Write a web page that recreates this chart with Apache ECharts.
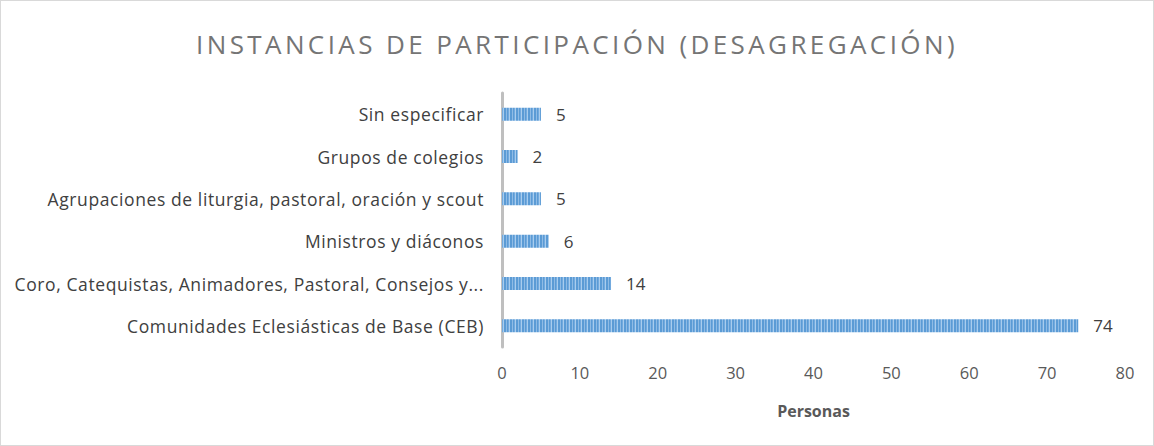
<!DOCTYPE html>
<html><head><meta charset="utf-8">
<script src="https://cdn.jsdelivr.net/npm/echarts@6/dist/echarts.min.js"></script>
<style>html,body{margin:0;padding:0;background:#fff}#c{width:1152px;height:444px;border:1px solid #d9d9d9}</style>
</head><body><div id="c"></div>
<script>
const categories = ["Sin especificar","Grupos de colegios","Agrupaciones de liturgia, pastoral, oración y scout","Ministros y diáconos","Coro, Catequistas, Animadores, Pastoral, Consejos y...","Comunidades Eclesiásticas de Base (CEB)"];
const values = [5,2,5,6,14,74];
const xTicks = [0,10,20,30,40,50,60,70,80];
const titleText = 'INSTANCIAS DE PARTICIPACIÓN (DESAGREGACIÓN)';

const pc = document.createElement('canvas');
pc.width = 6; pc.height = 4;
const g = pc.getContext('2d');
const cols = ['#5b9bd5','#8fbbe5','#5b9bd5','#73aade','#a9cdee','#5b9bd5'];
cols.forEach((c,i)=>{g.fillStyle=c;g.fillRect(i,0,1,4);});

const chart = echarts.init(document.getElementById('c'), null, {renderer:'svg'});
const font = "'Open Sans', sans-serif";
chart.setOption({
  animation:false,
  title:{text:titleText,left:'center',top:25,
    textStyle:{fontFamily:font,fontSize:26,fontWeight:'normal',color:'#757575'}},
  grid:{left:501,right:28,top:92,bottom:98,containLabel:false},
  xAxis:{type:'value',min:0,max:80,interval:10,
    axisLine:{show:false},axisTick:{show:false},splitLine:{show:false},
    axisLabel:{fontFamily:font,fontSize:16.5,color:'#595959',margin:17,
      formatter:v=>xTicks.includes(v)?String(v):''},
    name:'Personas',nameLocation:'middle',nameGap:56,
    nameTextStyle:{fontFamily:font,fontSize:16,fontWeight:'bold',color:'#595959'}},
  yAxis:{type:'category',data:categories,inverse:true,
    axisLine:{show:true,lineStyle:{color:'#bfbfbf',width:3}},axisTick:{show:false},
    axisLabel:{fontFamily:font,fontSize:17.5,color:'#404040',margin:18}},
  series:[{type:'bar',data:values,barWidth:13,
    itemStyle:{color:{image:pc,repeat:'repeat'}},
    label:{show:true,position:'right',distance:15,fontFamily:font,fontSize:17,color:'#404040'}}]
});
document.querySelectorAll('#c text').forEach(t=>{
  if (t.textContent === titleText) t.style.letterSpacing = '3.4px';
  else if (categories.includes(t.textContent)) t.style.letterSpacing = '0.6px';
});
</script></body></html>
